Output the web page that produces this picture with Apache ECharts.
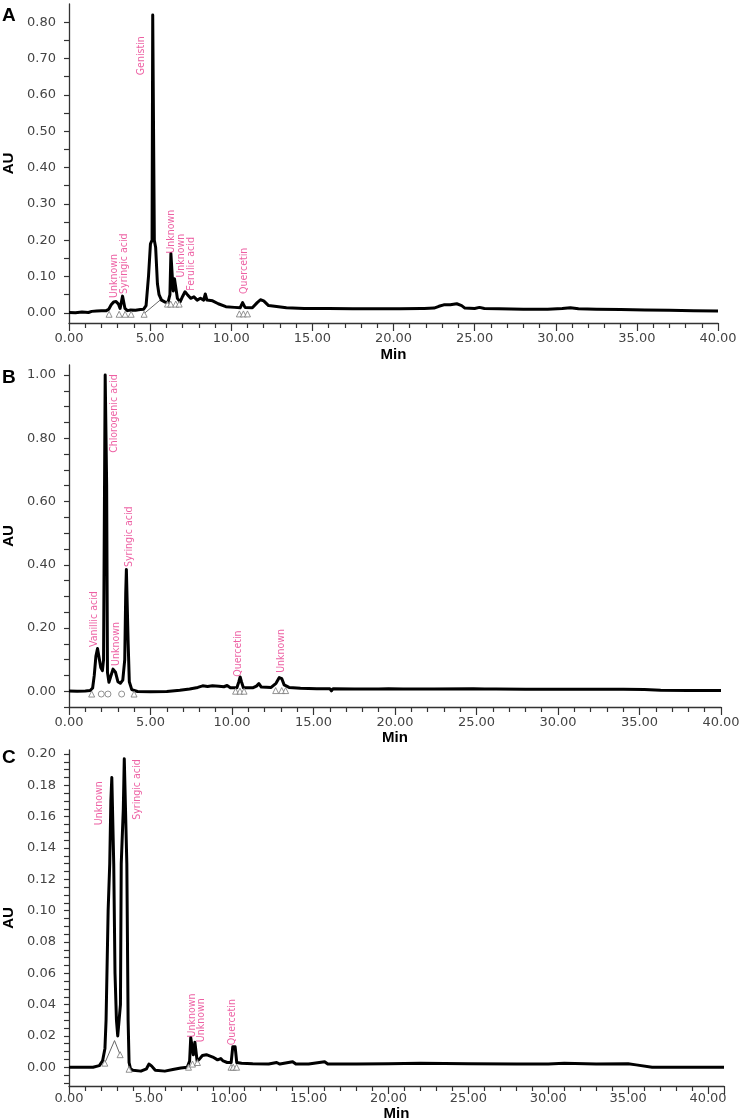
<!DOCTYPE html>
<html><head><meta charset="utf-8">
<script src="https://cdn.jsdelivr.net/npm/echarts@6/dist/echarts.min.js"></script>
<style>html,body{margin:0;padding:0;background:#fff}#c{width:741px;height:1120px}</style>
</head><body><div id="c"></div>
<script>
// ---------- DATA (retention time in min, absorbance in AU) ----------
const traceA = [[0,0.001],[0.4,0.0],[0.8,0.002],[1.2,0.001],[1.4,0.004],[1.7,0.005],[2.0,0.006],[2.3,0.006],[2.45,0.01],[2.6,0.022],[2.75,0.03],[2.9,0.031],[3.05,0.024],[3.15,0.012],[3.25,0.014],[3.3,0.046],[3.4,0.046],[3.45,0.012],[3.6,0.006],[3.8,0.008],[4.1,0.007],[4.4,0.009],[4.6,0.01],[4.75,0.02],[4.9,0.1],[5.02,0.19],[5.12,0.2],[5.16,0.82],[5.22,0.82],[5.26,0.2],[5.34,0.18],[5.45,0.08],[5.55,0.05],[5.7,0.035],[5.9,0.03],[6.1,0.028],[6.22,0.05],[6.28,0.163],[6.36,0.163],[6.42,0.06],[6.5,0.094],[6.6,0.094],[6.68,0.04],[6.85,0.03],[7.0,0.045],[7.15,0.058],[7.3,0.05],[7.5,0.04],[7.7,0.044],[7.9,0.035],[8.1,0.04],[8.3,0.035],[8.4,0.052],[8.5,0.035],[8.85,0.033],[9.2,0.025],[9.67,0.017],[10.2,0.015],[10.55,0.014],[10.7,0.028],[10.85,0.015],[11.3,0.014],[11.6,0.028],[11.8,0.036],[12.0,0.033],[12.3,0.02],[12.55,0.019],[13.4,0.014],[14.5,0.012],[16,0.012],[17.5,0.011],[19,0.011],[20.4,0.011],[21.7,0.012],[21.8,0.016],[21.9,0.012],[22.5,0.013],[22.8,0.018],[23.1,0.022],[23.5,0.022],[23.9,0.025],[24.2,0.02],[24.4,0.013],[25.0,0.012],[25.3,0.015],[25.6,0.012],[26.5,0.011],[28,0.01],[29.5,0.01],[30.4,0.012],[30.9,0.014],[31.4,0.011],[32.5,0.01],[34,0.009],[35.5,0.008],[37,0.007],[38.5,0.006],[40,0.005]];
const traceB = [[0,0.001],[0.5,0.0],[1.0,0.001],[1.3,0.002],[1.45,0.01],[1.55,0.05],[1.65,0.11],[1.75,0.135],[1.85,0.13],[1.95,0.075],[2.05,0.065],[2.12,0.1],[2.18,0.65],[2.22,1.0],[2.27,1.0],[2.31,0.65],[2.36,0.06],[2.45,0.028],[2.55,0.045],[2.7,0.07],[2.85,0.06],[3.0,0.03],[3.15,0.025],[3.3,0.035],[3.42,0.1],[3.48,0.31],[3.52,0.385],[3.58,0.385],[3.63,0.15],[3.7,0.03],[3.85,0.005],[4.2,-0.001],[5.0,-0.002],[6.0,-0.001],[6.8,0.003],[7.4,0.007],[7.9,0.012],[8.2,0.017],[8.5,0.015],[8.8,0.017],[9.2,0.016],[9.5,0.014],[9.7,0.018],[9.9,0.011],[10.3,0.011],[10.42,0.03],[10.5,0.045],[10.58,0.03],[10.7,0.011],[11.3,0.011],[11.5,0.016],[11.65,0.024],[11.8,0.013],[12.4,0.012],[12.7,0.025],[12.9,0.043],[13.05,0.04],[13.2,0.02],[13.5,0.012],[14.2,0.009],[15.2,0.008],[16.0,0.008],[16.1,0.001],[16.2,0.008],[17.5,0.007],[19,0.007],[19.6,0.008],[20.5,0.007],[22.2,0.007],[22.3,0.01],[22.4,0.007],[24.8,0.008],[25.5,0.007],[26.05,0.007],[26.1,0.003],[26.2,0.007],[28,0.006],[30,0.006],[32,0.006],[34,0.006],[35.3,0.005],[36.3,0.003],[38,0.002],[40,0.002]];
const traceC = [[0,0.0],[0.5,0.0],[0.6,0.001],[0.7,0.0],[1.2,0.0],[1.5,0.0],[1.9,0.001],[2.1,0.004],[2.25,0.012],[2.32,0.03],[2.45,0.1],[2.55,0.13],[2.62,0.17],[2.68,0.185],[2.74,0.185],[2.8,0.13],[2.88,0.06],[2.97,0.03],[3.05,0.02],[3.15,0.02],[3.22,0.04],[3.27,0.13],[3.4,0.165],[3.46,0.197],[3.54,0.197],[3.62,0.13],[3.7,0.03],[3.76,0.003],[3.85,-0.001],[4.0,-0.002],[4.5,-0.0025],[4.85,-0.001],[5.0,0.002],[5.15,0.001],[5.4,-0.002],[6.0,-0.0025],[6.5,-0.0015],[7.0,-0.0005],[7.4,0.0],[7.55,0.004],[7.62,0.019],[7.72,0.018],[7.78,0.008],[7.88,0.016],[7.95,0.015],[8.02,0.004],[8.15,0.005],[8.35,0.0075],[8.6,0.008],[9.0,0.0065],[9.3,0.0047],[9.5,0.0055],[9.65,0.004],[9.9,0.003],[10.15,0.003],[10.25,0.013],[10.4,0.013],[10.5,0.003],[10.8,0.0025],[11.5,0.0022],[12.5,0.002],[13.0,0.003],[13.2,0.002],[14.0,0.0035],[14.2,0.002],[15.0,0.002],[16.0,0.0035],[16.2,0.002],[18,0.002],[20,0.0022],[22,0.0025],[25,0.0022],[28,0.002],[30,0.002],[31,0.0025],[33,0.002],[35,0.0022],[35.5,0.0015],[36.5,0.0],[38,0.0],[41,0.0]];

const labelsA = [[2.78,0.041,'Unknown'],[3.4,0.052,'Syringic acid'],[4.44,0.654,'Genistin'],[6.3,0.163,'Unknown'],[6.91,0.097,'Unknown'],[7.53,0.061,'Ferulic acid'],[10.8,0.052,'Quercetin']];
const labelsB = [[1.58,0.14,'Vanillic acid'],[2.9,0.08,'Unknown'],[2.76,0.754,'Chlorogenic acid'],[3.68,0.393,'Syringic acid'],[10.39,0.046,'Quercetin'],[13.05,0.058,'Unknown']];
const labelsC = [[1.88,0.1546,'Unknown'],[4.28,0.158,'Syringic acid'],[7.69,0.019,'Unknown'],[8.25,0.016,'Unknown'],[10.24,0.014,'Quercetin']];

const triA = [[2.47,-0.004],[3.09,-0.004],[3.46,-0.004],[3.83,-0.004],[4.63,-0.004],[6.07,0.024],[6.27,0.024],[6.58,0.024],[6.79,0.024],[10.5,-0.003],[10.75,-0.003],[11.0,-0.003]];
const triB = [[1.39,-0.009],[3.99,-0.009],[10.22,0.0],[10.49,0.0],[10.74,0.0],[12.68,0.002],[13.05,0.002],[13.29,0.002]];
const circB = [[1.98,-0.009],[2.39,-0.009],[3.23,-0.009]];
const triC = [[2.24,0.0026],[3.2,0.008],[3.76,-0.0013],[7.48,0.0],[7.73,0.002],[8.04,0.003],[10.14,0.0],[10.28,0.0],[10.49,0.0]];

const baseA = [[4.63,-0.002],[5.75,0.04]];
const baseC = [[2.24,0.0026],[2.85,0.017],[3.2,0.008]];

const xLabels = [0,5,10,15,20,25,30,35,40];
const yLabelsA = [0,0.1,0.2,0.3,0.4,0.5,0.6,0.7,0.8];
const yLabelsB = [0,0.2,0.4,0.6,0.8,1.0];
const yLabelsC = [0,0.02,0.04,0.06,0.08,0.1,0.12,0.14,0.16,0.18,0.2];

// ---------- CHART ----------
function steps(a, b, s){ const r=[]; for(let v=a; v<=b+1e-9; v+=s) r.push(+v.toFixed(4)); return r; }
const panels = [
  {trace:traceA, labels:labelsA, tri:triA, circ:[], base:baseA, xMax:40, yMin:-0.028, yMax:0.85, top:4, height:319, right:23, yLabels:yLabelsA, yTicks:steps(0,0.8,0.05), letter:'A', letterTop:6, lm:9, ng:24},
  {trace:traceB, labels:labelsB, tri:triB, circ:circB, base:[], xMax:40, yMin:-0.05, yMax:1.032, top:365, height:342, right:20, yLabels:yLabelsB, yTicks:steps(-0.05,1.0,0.05), letter:'B', letterTop:368, lm:9, ng:23},
  {trace:traceC, labels:labelsC, tri:triC, circ:[], base:baseC, xMax:41, yMin:-0.012, yMax:0.2026, top:750, height:336, right:17, yLabels:yLabelsC, yTicks:steps(-0.01,0.2,0.005), letter:'C', letterTop:748, lm:6, ng:20}
];
const axisColor = '#333';
const tickFont = "'DejaVu Sans', Arial, sans-serif";
const labFont = "'Liberation Sans Narrow','Arial Narrow','DejaVu Sans Condensed',sans-serif";
const pink = '#e8388c';
const grid=[], xAxis=[], yAxis=[], series=[], graphic=[];
panels.forEach((p,i)=>{
  grid.push({left:69, right:p.right, top:p.top, height:p.height, containLabel:false, outerBoundsMode:'none'});
  xAxis.push({type:'value', gridIndex:i, min:0, max:p.xMax, interval:5,
    axisLine:{show:true, onZero:false, lineStyle:{color:axisColor, width:1.3}},
    axisTick:{show:true, length:8, lineStyle:{color:axisColor, width:1.2}},
    minorTick:{show:true, splitNumber:5, length:5, lineStyle:{color:axisColor, width:1.2}},
    splitLine:{show:false}, minorSplitLine:{show:false},
    axisLabel:{margin:p.lm, fontSize:13, color:'#444', fontFamily:tickFont, showMaxLabel: p.xMax===40, formatter:v=>v.toFixed(2)},
    name:'Min', nameLocation:'middle', nameGap:p.ng,
    nameTextStyle:{fontWeight:'bold', fontSize:15, color:'#000', fontFamily:'Liberation Sans, Arial, sans-serif'}
  });
  yAxis.push({type:'value', gridIndex:i, min:p.yMin, max:p.yMax,
    axisLine:{show:true, onZero:false, lineStyle:{color:axisColor, width:1.3}},
    axisTick:{show:true, length:5, customValues:p.yTicks, lineStyle:{color:axisColor, width:1.2}},
    splitLine:{show:false},
    axisLabel:{margin:13, fontSize:13, color:'#444', fontFamily:tickFont, customValues:p.yLabels, formatter:v=>v.toFixed(2)},
    name:'AU', nameLocation:'middle', nameGap:52, nameRotate:90,
    nameTextStyle:{fontWeight:'bold', fontSize:15, color:'#000', fontFamily:'Liberation Sans, Arial, sans-serif'}
  });
  if (p.base.length) series.push({type:'line', xAxisIndex:i, yAxisIndex:i, data:p.base, symbol:'none', silent:true, z:1,
    lineStyle:{color:'#666', width:1}});
  series.push({type:'line', xAxisIndex:i, yAxisIndex:i, data:p.trace, symbol:'none', silent:true, z:2,
    lineStyle:{color:'#000', width:3, join:'round'}});
  series.push({type:'scatter', xAxisIndex:i, yAxisIndex:i, data:p.tri, symbol:'triangle', symbolSize:6, silent:true, z:3,
    itemStyle:{color:'#fff', borderColor:'#777', borderWidth:1}});
  if (p.circ.length) series.push({type:'scatter', xAxisIndex:i, yAxisIndex:i, data:p.circ, symbol:'circle', symbolSize:6, silent:true, z:3,
    itemStyle:{color:'#fff', borderColor:'#777', borderWidth:1}});
  series.push({type:'scatter', xAxisIndex:i, yAxisIndex:i, symbolSize:0, silent:true, z:4,
    data:p.labels.map(l=>({value:[l[0],l[1]], name:l[2]})),
    label:{show:true, formatter:'{b}', rotate:90, position:'inside', align:'left', verticalAlign:'middle',
      fontSize:10.5, color:pink, fontFamily:labFont}});
  graphic.push({type:'text', left:2, top:p.letterTop, style:{text:p.letter, font:"bold 19px 'Liberation Sans', Arial, sans-serif", fill:'#000'}});
});
const chart = echarts.init(document.getElementById('c'));
chart.setOption({animation:false, grid, xAxis, yAxis, series, graphic});
</script>
</body></html>
